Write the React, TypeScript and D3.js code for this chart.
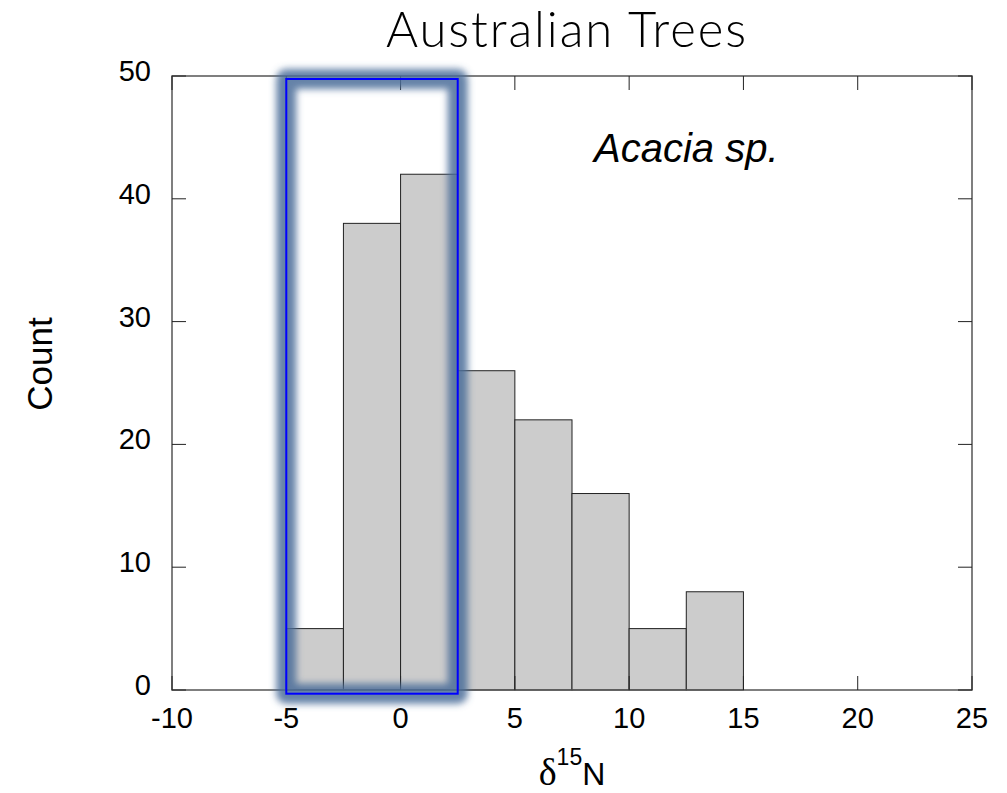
import React, { useRef, useEffect } from "react";
import * as d3 from "d3";

// histogram bins (left edge) and counts
const binStarts = [-5, -2.5, 0, 2.5, 5, 7.5, 10, 12.5];
const binWidth = 2.5;
const counts = [5, 38, 42, 26, 22, 16, 5, 8];
const xTicks = [-10, -5, 0, 5, 10, 15, 20, 25];
const yTicks = [0, 10, 20, 30, 40, 50];
const highlight = [-5, 2.5];

export default function App() {
  const ref = useRef<SVGSVGElement>(null);

  const W = 1007, H = 793;
  const margin = { top: 76, right: 35, bottom: 103, left: 172 };
  const width = W - margin.left - margin.right;
  const height = H - margin.top - margin.bottom;

  useEffect(() => {
    const root = d3.select(ref.current);
    root.selectAll("*").remove();

    const defs = root.append("defs");
    defs.append("filter")
      .attr("id", "glow")
      .attr("x", "-20%").attr("y", "-20%")
      .attr("width", "140%").attr("height", "140%")
      .append("feGaussianBlur")
      .attr("stdDeviation", 3.5);

    const svg = root.append("g")
      .attr("transform", "translate(" + margin.left + "," + margin.top + ")");

    const x = d3.scaleLinear().domain([-10, 25]).range([0, width]);
    const y = d3.scaleLinear().domain([0, 50]).range([height, 0]);

    // bars
    svg.append("g")
      .selectAll("rect")
      .data(counts)
      .enter()
      .append("rect")
      .attr("x", (d, i) => x(binStarts[i]))
      .attr("width", (d, i) => x(binStarts[i] + binWidth) - x(binStarts[i]))
      .attr("y", d => y(d))
      .attr("height", d => y(0) - y(d))
      .style("fill", "#cccccc")
      .style("stroke", "#222")
      .style("stroke-width", 1);

    // frame
    svg.append("rect")
      .attr("x", 0).attr("y", 0)
      .attr("width", width).attr("height", height)
      .style("fill", "none")
      .style("stroke", "#555")
      .style("stroke-width", 1.5);

    const tickLen = 14;
    const axisFont = "'Liberation Sans', Arial, sans-serif";

    // x ticks (bottom + mirrored top)
    xTicks.forEach(t => {
      svg.append("line")
        .attr("x1", x(t)).attr("x2", x(t))
        .attr("y1", height).attr("y2", height - tickLen)
        .style("stroke", "#222");
      svg.append("line")
        .attr("x1", x(t)).attr("x2", x(t))
        .attr("y1", 0).attr("y2", tickLen)
        .style("stroke", "#222");
      svg.append("text")
        .attr("x", x(t))
        .attr("y", height + 38)
        .attr("text-anchor", "middle")
        .style("font-family", axisFont)
        .style("font-size", "29px")
        .text(t);
    });

    // y ticks (left + mirrored right)
    yTicks.forEach(t => {
      svg.append("line")
        .attr("x1", 0).attr("x2", tickLen)
        .attr("y1", y(t)).attr("y2", y(t))
        .style("stroke", "#222");
      svg.append("line")
        .attr("x1", width).attr("x2", width - tickLen)
        .attr("y1", y(t)).attr("y2", y(t))
        .style("stroke", "#222");
      svg.append("text")
        .attr("x", -21)
        .attr("y", y(t) + 5)
        .attr("text-anchor", "end")
        .style("font-family", axisFont)
        .style("font-size", "29px")
        .text(t);
    });

    // highlight box with glow
    const hx = x(highlight[0]);
    const hw = x(highlight[1]) - x(highlight[0]);
    svg.append("rect")
      .attr("x", hx).attr("y", y(50) + 3)
      .attr("width", hw).attr("height", height + 0.7)
      .style("fill", "none")
      .style("stroke", "#4a6d99")
      .style("stroke-opacity", 0.85)
      .style("stroke-width", 20)
      .attr("stroke-linejoin", "round")
      .attr("filter", "url(#glow)");
    svg.append("rect")
      .attr("x", hx).attr("y", y(50) + 3)
      .attr("width", hw).attr("height", height + 0.7)
      .style("fill", "none")
      .style("stroke", "#0000ff")
      .style("stroke-width", 2);

    // annotation
    svg.append("text")
      .attr("x", x(12.5))
      .attr("y", y(43))
      .attr("text-anchor", "middle")
      .style("font-family", axisFont)
      .style("font-style", "italic")
      .style("font-size", "40px")
      .text("Acacia sp.");

    // title
    root.append("text")
      .attr("x", 566)
      .attr("y", 47)
      .attr("text-anchor", "middle")
      .attr("textLength", 360)
      .attr("lengthAdjust", "spacing")
      .style("font-family", "Lato, sans-serif")
      .style("font-weight", 300)
      .style("font-size", "49px")
      .text("Australian Trees");

    // y label
    root.append("text")
      .attr("transform", "translate(52,364) rotate(-90)")
      .attr("text-anchor", "middle")
      .style("font-family", axisFont)
      .style("font-size", "35px")
      .text("Count");

    // x label
    const xl = root.append("text")
      .attr("x", margin.left + width / 2)
      .attr("y", 785)
      .attr("text-anchor", "middle");
    xl.append("tspan")
      .style("font-family", "'Liberation Serif', 'Times New Roman', serif")
      .style("font-size", "38px")
      .text("δ");
    xl.append("tspan")
      .attr("dy", -20)
      .style("font-family", axisFont)
      .style("font-size", "23px")
      .text("15");
    xl.append("tspan")
      .attr("dy", 20)
      .style("font-family", axisFont)
      .style("font-size", "32px")
      .text("N");
  }, []);

  return (
    <svg ref={ref} width={W} height={H} style={{ position: "absolute", left: 0, top: 0, background: "#fff" }} />
  );
}
